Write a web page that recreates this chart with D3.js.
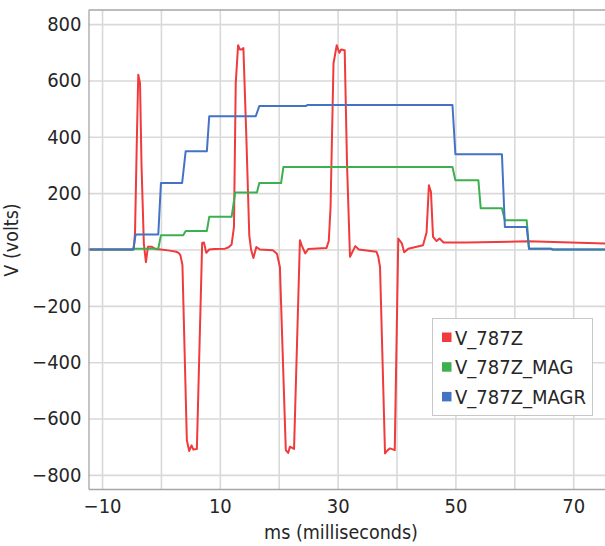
<!DOCTYPE html>
<html>
<head>
<meta charset="utf-8">
<script src="https://cdn.jsdelivr.net/npm/d3@7"></script>
<style>
  body { margin: 0; background: #fff; }
  svg text { font-family: "DejaVu Sans Condensed", "Liberation Sans", sans-serif; fill: #262626; }
</style>
</head>
<body>
<div id="chart"></div>
<script>
// series names (legend order)
var seriesNames = ["V_787Z", "V_787Z_MAG", "V_787Z_MAGR"];

// V_787Z: [ms, volts]
var v787z = [
  [-12.3, 0], [-5.0, 0], [-4.6, 5], [-4.4, 60], [-4.1, 380], [-3.85, 620], [-3.55, 590],
  [-3.3, 300], [-2.9, 20], [-2.55, -45], [-2.2, 10], [-1.6, 10], [-1.0, 2], [0, 0],
  [1.5, -4], [2.6, -8], [3.0, -12], [3.3, -20], [3.65, -55], [4.4, -677], [4.8, -715],
  [5.2, -695], [5.5, -710], [6.1, -708], [7.0, 23], [7.3, 25], [7.7, -12], [8.2, 0],
  [9.0, 2], [10.9, 3], [11.5, 8], [12.0, 18], [12.4, 80], [12.7, 590], [13.1, 725],
  [13.4, 710], [13.7, 710], [14.0, 715], [14.5, 400], [15.0, 50], [15.3, 0], [15.7, -30],
  [16.2, 9], [16.8, 0], [19.0, -3], [19.7, -15], [20.2, -62], [21.2, -712], [21.6, -722],
  [21.9, -700], [22.6, -708], [23.6, 33], [23.9, 15], [24.5, -14], [25.0, 2], [28.1, 5],
  [28.5, 30], [28.8, 150], [29.3, 660], [29.85, 725], [30.3, 698], [30.6, 710], [31.2, 707],
  [31.6, 300], [32.1, -26], [33.0, 12], [33.6, 0], [36.6, -8], [36.9, -25], [37.2, -62],
  [38.05, -724], [38.5, -712], [38.9, -706], [39.7, -712], [40.3, 39], [40.9, 22],
  [41.3, -10], [42.0, 3], [44.5, 15], [45.1, 60], [45.5, 228], [45.85, 204], [46.2, 45],
  [46.8, 30], [47.3, 39], [48.0, 25], [51.9, 25], [62.4, 29], [75.4, 21]
];

// V_787Z_MAG: [ms, volts]
var v787zMag = [
  [-12.3, 0], [-4.7, 0], [-4.3, 3], [-0.45, 3], [0.0, 51], [3.8, 51], [4.2, 66], [7.8, 66],
  [8.2, 116], [12.0, 116], [12.6, 202], [16.3, 202], [16.7, 236], [20.4, 236], [20.8, 293],
  [49.5, 293], [50.0, 246], [53.9, 246], [54.3, 146], [57.9, 146], [58.4, 104], [62.1, 104],
  [62.5, 3], [66.2, 3], [66.5, 0], [75.4, 0]
];

// V_787Z_MAGR: [ms, volts]
var v787zMagr = [
  [-12.3, 0], [-4.7, 0], [-4.3, 53], [-0.45, 53], [0.0, 236], [3.6, 236], [4.2, 349],
  [7.8, 349], [8.2, 473], [16.1, 473], [16.7, 509], [24.6, 509], [24.9, 513], [49.5, 513],
  [50.0, 338], [57.9, 338], [58.4, 80], [62.1, 80], [62.5, 3], [66.2, 3], [66.5, 0], [75.4, 0]
];

var colors = ["#f03a3c", "#3cb050", "#4472c4"];

// ticks
var xGridTicks = [-10, 0, 10, 20, 30, 40, 50, 60, 70];
var xLabelTicks = [-10, 10, 30, 50, 70];
var yTicks = [-800, -600, -400, -200, 0, 200, 400, 600, 800];

var W = 605, H = 546;
var margin = {top: 10, right: 0, bottom: 57, left: 88.5};
var width = W - margin.left - margin.right,
    height = H - margin.top - margin.bottom;

var svg = d3.select("#chart")
  .append("svg")
    .attr("width", W)
    .attr("height", H);

var g = svg.append("g")
    .attr("transform", "translate(" + margin.left + "," + margin.top + ")");

var x = d3.scaleLinear().domain([-12.3, 75.4]).range([0, width]);
var y = d3.scaleLinear().domain([-850, 850]).range([height, 0]);

// grid
g.append("g")
    .attr("transform", "translate(0," + height + ")")
    .call(d3.axisBottom(x).tickValues(xGridTicks).tickSize(-height).tickFormat(""))
    .call(function(s) {
      s.select(".domain").remove();
      s.selectAll("line").attr("stroke", "#d9d9d9").attr("stroke-width", 1.6);
    });
g.append("g")
    .call(d3.axisLeft(y).tickValues(yTicks).tickSize(-width).tickFormat(""))
    .call(function(s) {
      s.select(".domain").remove();
      s.selectAll("line").attr("stroke", "#d9d9d9").attr("stroke-width", 1.6);
    });

// top frame line
g.append("line").attr("x1", 0).attr("x2", width).attr("y1", 0).attr("y2", 0)
    .attr("stroke", "#a6a6a6").attr("stroke-width", 1.3);

// lines
var line = d3.line()
    .x(function(d) { return x(d[0]); })
    .y(function(d) { return y(d[1]); });

g.append("clipPath").attr("id", "clip")
  .append("rect").attr("width", width).attr("height", height);

[v787z, v787zMag, v787zMagr].forEach(function(data, i) {
  g.append("path")
      .datum(data)
      .attr("clip-path", "url(#clip)")
      .attr("fill", "none")
      .attr("stroke", colors[i])
      .attr("stroke-width", 2)
      .attr("stroke-linejoin", "round")
      .attr("d", line);
});

// axes
var xAxis = g.append("g")
    .attr("transform", "translate(0," + height + ")")
    .call(d3.axisBottom(x).tickValues(xLabelTicks).tickSize(0).tickPadding(10));
xAxis.select(".domain").attr("stroke", "#a6a6a6").attr("stroke-width", 1.3);
xAxis.selectAll("text").style("font-size", "20px");

var yAxis = g.append("g")
    .call(d3.axisLeft(y).tickValues(yTicks).tickSize(0).tickPadding(7));
yAxis.select(".domain").attr("stroke", "#a6a6a6").attr("stroke-width", 1.3);
yAxis.selectAll("text").style("font-size", "20px");

// axis titles
svg.append("text")
    .attr("x", 341).attr("y", 539)
    .attr("text-anchor", "middle")
    .style("font-size", "19.5px")
    .text("ms (milliseconds)");

svg.append("text")
    .attr("transform", "translate(18,240) rotate(-90)")
    .attr("text-anchor", "middle")
    .style("font-size", "19.5px")
    .text("V (volts)");

// legend
var legend = svg.append("g").attr("transform", "translate(432.5,318.5)");
legend.append("rect")
    .attr("width", 160).attr("height", 97)
    .attr("fill", "#fff")
    .attr("stroke", "#c8c8c8").attr("stroke-width", 1);

seriesNames.forEach(function(name, i) {
  var row = legend.append("g").attr("transform", "translate(0," + (19 + i * 29.7) + ")");
  row.append("rect")
      .attr("x", 9.5).attr("y", -5).attr("width", 9.5).attr("height", 9.5)
      .attr("fill", colors[i]);
  row.append("text")
      .attr("x", 22.5).attr("dy", "0.35em")
      .style("font-size", "20px")
      .text(name);
});
</script>
</body>
</html>
